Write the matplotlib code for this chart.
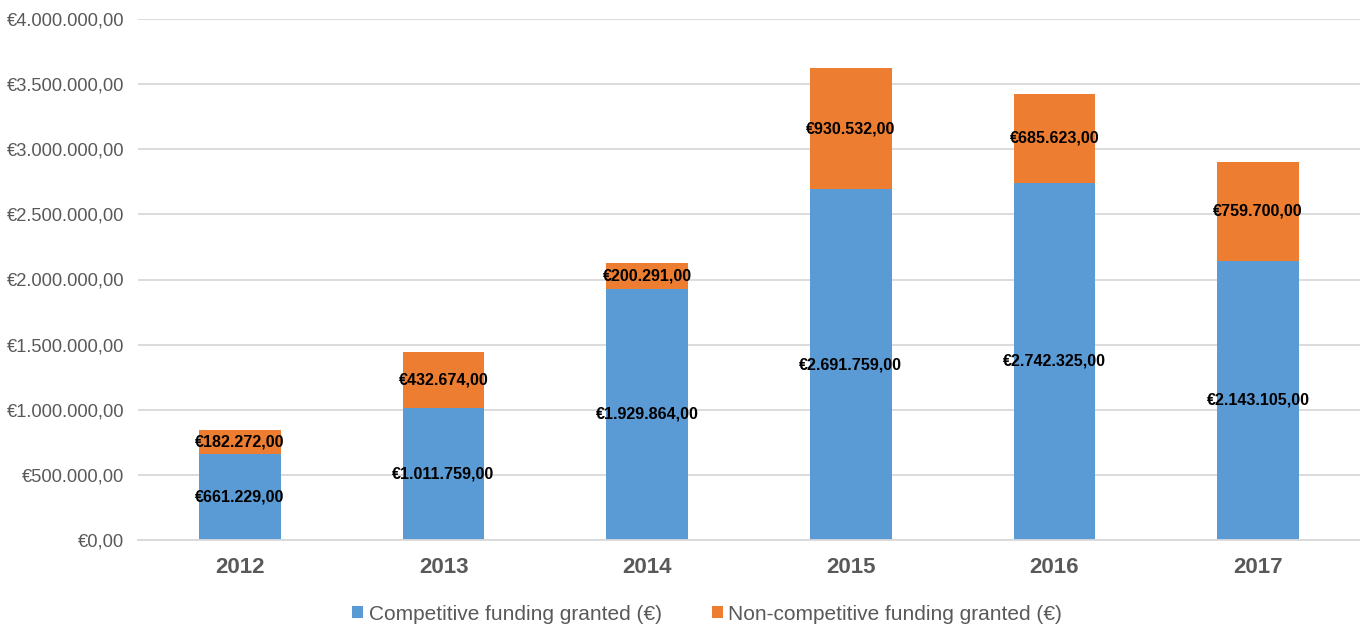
import matplotlib
matplotlib.use("Agg")
import matplotlib.pyplot as plt
from matplotlib.ticker import FuncFormatter, MultipleLocator

years = ["2012", "2013", "2014", "2015", "2016", "2017"]
competitive = [661229, 1011759, 1929864, 2691759, 2742325, 2143105]
non_competitive = [182272, 432674, 200291, 930532, 685623, 759700]
series_names = ["Competitive funding granted (€)", "Non-competitive funding granted (€)"]
colors = ["#5B9BD5", "#ED7D31"]

plt.rcParams['font.family'] = ['Liberation Sans', 'DejaVu Sans']


def eur(v):
    s = f"{v:,.2f}"
    s = s.replace(",", "X").replace(".", ",").replace("X", ".")
    return "€" + s


fig = plt.figure(figsize=(13.6, 6.25), dpi=100)
ax = fig.add_axes([138 / 1360, 1 - 540 / 625, 1 - 138 / 1360, (540 - 19) / 625])

x = list(range(len(years)))
b1 = ax.bar(x, competitive, width=0.4, color=colors[0], label=series_names[0], zorder=3)
b2 = ax.bar(x, non_competitive, width=0.4, bottom=competitive, color=colors[1],
            label=series_names[1], zorder=3)

for i in x:
    ax.text(i, competitive[i] / 2, eur(competitive[i]), ha="center", va="center",
            fontsize=11.6, fontweight="bold", color="black", zorder=4)
    ax.text(i, competitive[i] + non_competitive[i] / 2, eur(non_competitive[i]),
            ha="center", va="center", fontsize=11.6, fontweight="bold", color="black", zorder=4)

ax.set_ylim(0, 4000000)
ax.set_xlim(-0.5, 5.5)
ax.yaxis.set_major_locator(MultipleLocator(500000))
ax.yaxis.set_major_formatter(FuncFormatter(lambda v, p: eur(v)))
ax.grid(axis="y", color="#D9D9D9", linewidth=1.3, zorder=0)
ax.set_axisbelow(True)
for s in ["top", "right", "left"]:
    ax.spines[s].set_visible(False)
ax.spines["bottom"].set_color("#D9D9D9")
ax.spines["bottom"].set_linewidth(1.3)
ax.spines["bottom"].set_zorder(5)
ax.tick_params(axis="y", length=0, pad=10, labelsize=13.2, labelcolor="#595959")
ax.tick_params(axis="x", length=0, pad=12, labelsize=16, labelcolor="#595959")
ax.set_xticks(x)
ax.set_xticklabels(years, fontweight="bold")

leg = fig.legend(handles=[b1, b2], labels=series_names, loc="center",
                 bbox_to_anchor=(707 / 1360, 1 - 614 / 625), ncol=2, frameon=False,
                 fontsize=15, handlelength=0.55, handleheight=0.55, handletextpad=0.25,
                 columnspacing=2.4, labelcolor="#595959")

fig.savefig("out.png", dpi=100)
